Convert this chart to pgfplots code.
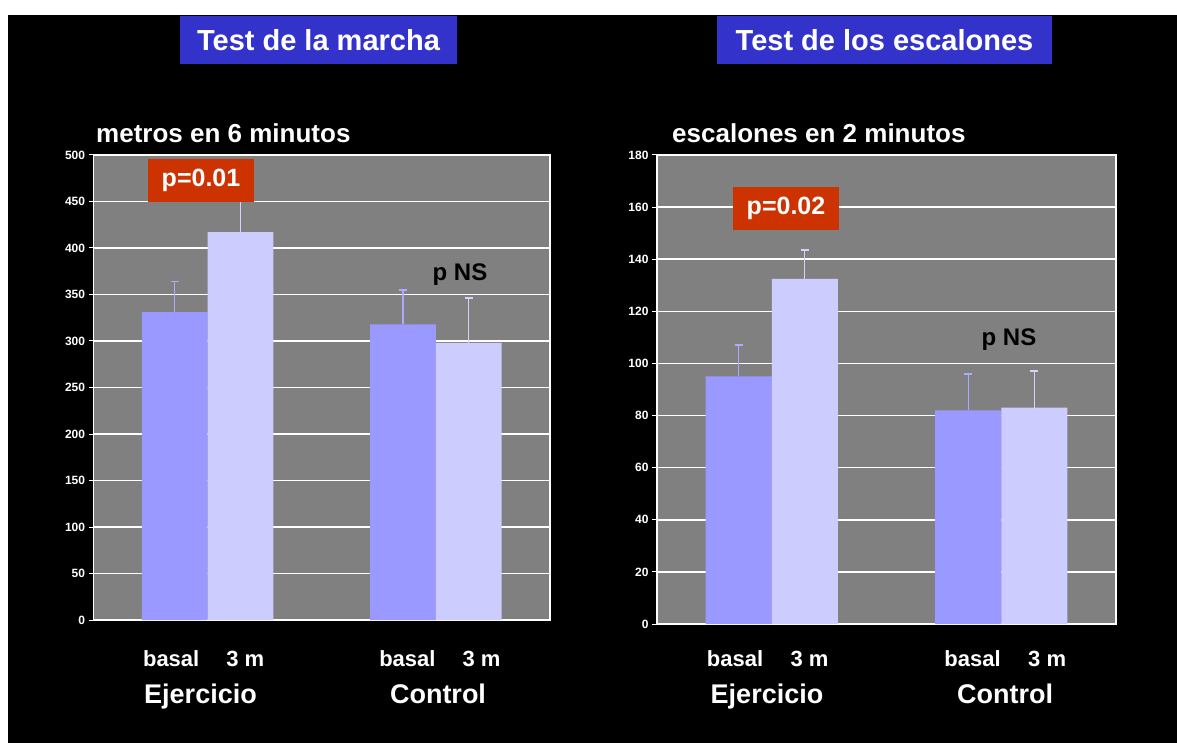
\documentclass[border=0pt]{standalone}
\usepackage{fontspec}
\setmainfont{Liberation Sans}
\usepackage{pgfplots}
\pgfplotsset{compat=1.18}
\definecolor{basal}{RGB}{153,153,255}
\definecolor{tres}{RGB}{204,204,255}
\definecolor{plotgray}{RGB}{128,128,128}
\definecolor{titleblue}{RGB}{51,51,204}
\definecolor{pred}{RGB}{204,51,0}
\definecolor{errA}{RGB}{170,170,255}
\definecolor{errB}{RGB}{210,210,255}
\pgfplotsset{
 panel/.style={
  scale only axis, anchor=south west,
  axis background/.style={fill=plotgray},
  axis line style={white, line width=1.5pt},
  ymajorgrids, grid style={white, line width=1.5pt},
  xmin=-0.5, xmax=1.5, ymin=0,
  xtick={-0.16,0.165,0.875,1.2},
  xticklabels={basal,3 m,basal,3 m},
  xtick style={draw=none},
  xticklabel style={anchor=base, font=\fontsize{22}{24}\selectfont\bfseries, text=white},
  ytick pos=left, tick align=outside, major tick length=5pt,
  ytick style={white, line width=1pt},
  yticklabel style={font=\fontsize{12}{13}\selectfont\bfseries, text=white},
  /pgf/number format/assume math mode=true,
  ybar, bar width=0.288,
  clip=false,
 },
 bA/.style={fill=basal, draw=none, bar shift=0pt,
  error bars/.cd, y dir=plus, y explicit,
  error bar style={color=errA, line width=1.3pt},
  error mark options={rotate=90, color=errA, line width=1.8pt, mark size=4pt}},
 bB/.style={fill=tres, draw=none, bar shift=0pt,
  error bars/.cd, y dir=plus, y explicit,
  error bar style={color=errB, line width=1.3pt},
  error mark options={rotate=90, color=errB, line width=1.8pt, mark size=4pt}},
}
\begin{document}
\begin{tikzpicture}[x=1pt,y=1pt]
\path[use as bounding box, fill=white] (0,0) rectangle (1177,742);
\fill[black] (8,-10) rectangle (1195,727);

\begin{axis}[panel, at={(93.6pt,122pt)}, width=456.4pt, height=465pt,
  ymax=500, ytick={0,50,...,500}, xticklabel style={yshift=-41pt}]
\addplot[bA] coordinates {(-0.144,331) +- (0,33) (0.856,318) +- (0,37)};
\addplot[bB] coordinates {(0.144,417) +- (0,38) (1.144,298) +- (0,48)};
\end{axis}

\begin{axis}[panel, at={(657pt,118pt)}, width=459pt, height=469pt,
  ymax=180, ytick={0,20,...,180}, xticklabel style={yshift=-37pt}]
\addplot[bA] coordinates {(-0.144,95) +- (0,12) (0.856,82) +- (0,14)};
\addplot[bB] coordinates {(0.144,132.5) +- (0,11) (1.144,83) +- (0,14)};
\end{axis}

\node[fill=titleblue, text=white, font=\fontsize{29}{31}\selectfont\bfseries,
  minimum width=277pt, minimum height=48pt, inner sep=0pt] at (318.5,702) {Test de la marcha};
\node[fill=titleblue, text=white, font=\fontsize{29}{31}\selectfont\bfseries,
  minimum width=335pt, minimum height=48pt, inner sep=0pt] at (884.5,702) {Test de los escalones};

\node[anchor=base west, inner sep=0pt, text=white, font=\fontsize{26}{28}\selectfont\bfseries] at (96,599) {metros en 6 minutos};
\node[anchor=base west, inner sep=0pt, text=white, font=\fontsize{26}{28}\selectfont\bfseries] at (672,599) {escalones en 2 minutos};

\node[fill=pred, text=white, font=\fontsize{25}{27}\selectfont\bfseries,
  minimum width=106pt, minimum height=43pt, inner sep=0pt] at (201,561.5) {p=0.01};
\node[fill=pred, text=white, font=\fontsize{25}{27}\selectfont\bfseries,
  minimum width=106pt, minimum height=43pt, inner sep=0pt] at (786,533.5) {p=0.02};

\node[text=black, font=\fontsize{24}{26}\selectfont\bfseries] at (460,467) {p NS};
\node[text=black, font=\fontsize{24}{26}\selectfont\bfseries] at (1009,402) {p NS};

\node[anchor=base, inner sep=0pt, text=white, font=\fontsize{27}{29}\selectfont\bfseries] at (200.5,39) {Ejercicio};
\node[anchor=base, inner sep=0pt, text=white, font=\fontsize{27}{29}\selectfont\bfseries] at (438,39) {Control};
\node[anchor=base, inner sep=0pt, text=white, font=\fontsize{27}{29}\selectfont\bfseries] at (767,39) {Ejercicio};
\node[anchor=base, inner sep=0pt, text=white, font=\fontsize{27}{29}\selectfont\bfseries] at (1005,39) {Control};
\end{tikzpicture}
\end{document}
